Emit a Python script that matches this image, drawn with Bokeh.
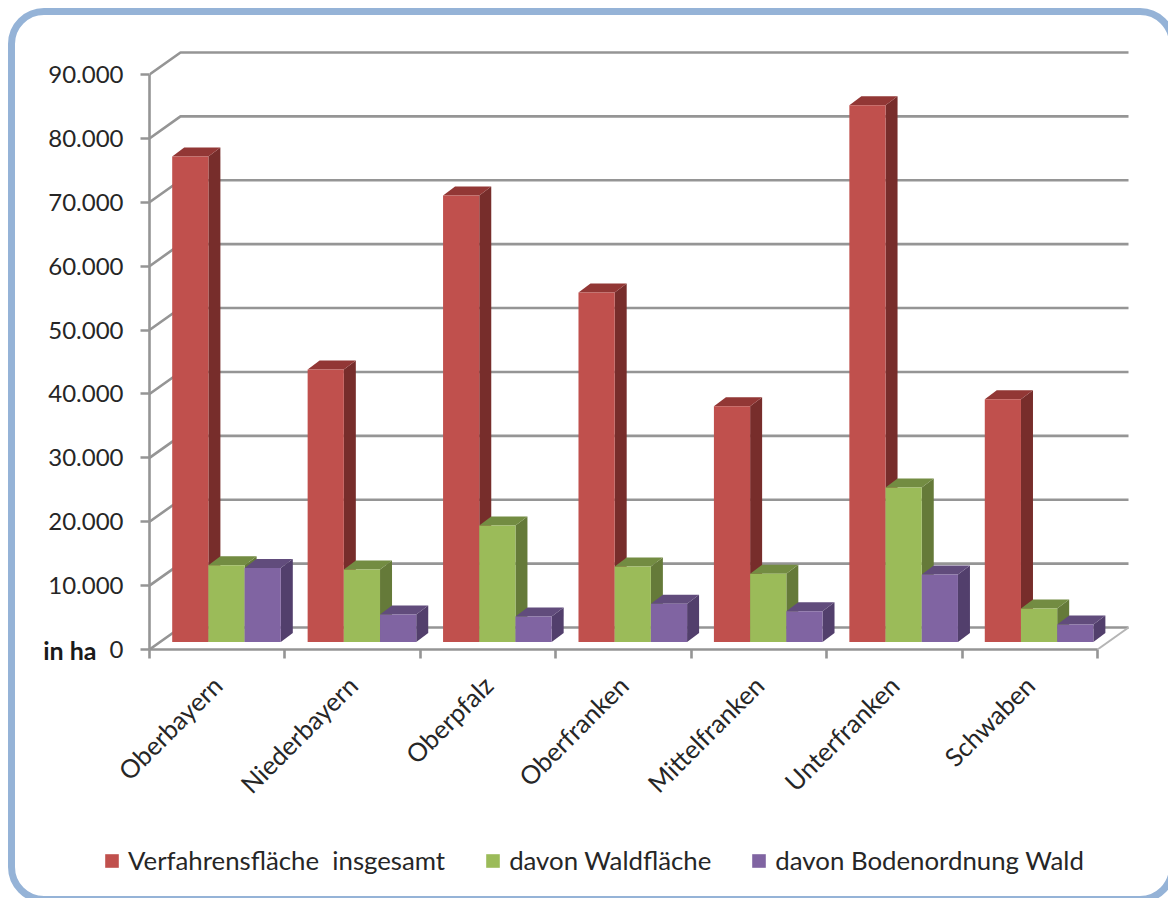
from bokeh.plotting import figure
from bokeh.layouts import column
from bokeh.models import (ColumnDataSource, FixedTicker, InlineStyleSheet, Legend,
                          LegendItem, LinearAxis, Range1d)
from bokeh.embed import file_html
from bokeh.resources import INLINE

regions = ["Oberbayern", "Niederbayern", "Oberpfalz", "Oberfranken",
           "Mittelfranken", "Unterfranken", "Schwaben"]
gesamt = [76000, 42650, 69900, 54700, 36900, 84000, 38000]
wald = [12000, 11350, 18250, 11800, 10700, 24200, 5250]
boden = [11600, 4300, 4000, 6000, 4800, 10550, 2750]
y_ticks = list(range(0, 100000, 10000))
y_labels = {v: (f"{v // 1000}.000" if v else "0") for v in y_ticks}
series_names = ["Verfahrensfläche  insgesamt", "davon Waldfläche", "davon Bodenordnung Wald"]

FONT = "Lato"
PX_X = 135.43            # pixels per category
PX_Y = 575 / 90000       # pixels per value unit
WALL_DX, WALL_DY = 31 / PX_X, 22 / PX_Y
BAR_DX, BAR_DY = 12 / PX_X, 9 / PX_Y
BAR_W = 36.2 / PX_X
BAR_X0 = 22.7 / PX_X
BASE = 7.5 / PX_Y

frame_css = InlineStyleSheet(css="""
:host { position: relative; overflow: hidden; }
:host::before {
  content: ""; position: absolute; left: 8px; top: 8px; width: 1168px; height: 895px;
  box-sizing: border-box; border: 7px solid #95B3D7; border-radius: 36px; pointer-events: none;
}
""")

p = figure(width=1168, height=812, output_backend="svg", toolbar_location=None,
           x_range=Range1d(0, 982 / PX_X), y_range=Range1d(0, 600 / PX_Y),
           x_axis_type=None, y_axis_type=None, frame_align=False,
           min_border_left=149, min_border_right=37, min_border_top=49, min_border_bottom=163)
p.outline_line_color = None
p.grid.visible = False
p.background_fill_alpha = 0
p.border_fill_alpha = 0

GRID = "#959595"
x_end = 7 + WALL_DX
grid_x = [[0, WALL_DX, x_end] for _ in y_ticks]
grid_y = [[v, v + WALL_DY, v + WALL_DY] for v in y_ticks]
p.multi_line(grid_x, grid_y, line_color=GRID, line_width=2.6)
p.line([7, x_end], [0, WALL_DY], line_color="#b5b5b5", line_width=2)

# strip below the chart that carries the legend
leg_fig = figure(width=1168, height=86, output_backend="svg", toolbar_location=None,
                 x_range=Range1d(0, 7), y_range=Range1d(0, 1),
                 x_axis_type=None, y_axis_type=None, frame_align=False,
                 min_border_left=0, min_border_right=0, min_border_top=0, min_border_bottom=0)
leg_fig.outline_line_color = None
leg_fig.grid.visible = False
leg_fig.background_fill_alpha = 0
leg_fig.border_fill_alpha = 0

faces = [("#C0504D", "#772D2B", "#923735"),
         ("#9BBB59", "#657A39", "#738C42"),
         ("#8064A2", "#523F6C", "#614C7C")]
legend_items = []
for s, (vals, (front, side, top)) in enumerate(zip([gesamt, wald, boden], faces)):
    lefts = [i + BAR_X0 + s * BAR_W for i in range(len(vals))]
    rights = [l + BAR_W for l in lefts]
    tops = [BASE + v for v in vals]
    p.patches([[r, r + BAR_DX, r + BAR_DX, r] for r in rights],
              [[BASE, BASE + BAR_DY, t + BAR_DY, t] for t in tops],
              fill_color=side, line_color=None)
    p.patches([[l, l + BAR_DX, r + BAR_DX, r] for l, r in zip(lefts, rights)],
              [[t, t + BAR_DY, t + BAR_DY, t] for t in tops],
              fill_color=top, line_color=None)
    src = ColumnDataSource(dict(x=[(l + r) / 2 for l, r in zip(lefts, rights)],
                                top=tops, bottom=[BASE] * len(vals)))
    p.vbar(x="x", top="top", bottom="bottom", width=BAR_W, source=src,
           fill_color=front, line_color=None)
    # legend key only: a bar of zero height, so nothing shows in the strip
    key = leg_fig.vbar(x=[3.5], top=[0.5], bottom=[0.5], width=BAR_W, fill_color=front, line_color=None)
    legend_items.append(LegendItem(label=series_names[s], renderers=[key]))

y_axis = LinearAxis(ticker=FixedTicker(ticks=y_ticks), bounds=(0, 90000),
                    major_label_overrides=y_labels,
                    major_tick_out=9, major_tick_in=0, minor_tick_out=0, minor_tick_in=0,
                    axis_line_color=GRID, axis_line_width=2.6,
                    major_tick_line_color=GRID, major_tick_line_width=2.6,
                    major_label_standoff=17,
                    major_label_text_font=FONT, major_label_text_font_size="24px",
                    major_label_text_color="#262626")
p.add_layout(y_axis, "left")

unit_axis = LinearAxis(ticker=FixedTicker(ticks=[0]), major_label_overrides={0: "in ha"},
                       axis_line_color=None, major_tick_line_color=None,
                       minor_tick_line_color=None, major_tick_out=0, major_tick_in=0,
                       major_label_standoff=-51,
                       major_label_text_font=FONT, major_label_text_font_size="25px",
                       major_label_text_font_style="bold", major_label_text_color="#1a1a1a")
p.add_layout(unit_axis, "left")

x_axis = LinearAxis(ticker=FixedTicker(ticks=[i + 0.5 for i in range(7)], minor_ticks=list(range(8))),
                    bounds=(0, 7),
                    major_label_overrides={i + 0.5: n for i, n in enumerate(regions)},
                    major_label_orientation=0.785398,
                    major_tick_out=0, major_tick_in=0, minor_tick_out=9, minor_tick_in=0,
                    axis_line_color=GRID, axis_line_width=2.6,
                    minor_tick_line_color=GRID, minor_tick_line_width=2.6,
                    major_label_standoff=22,
                    major_label_text_font=FONT, major_label_text_font_size="25.5px",
                    major_label_text_color="#262626")
p.add_layout(x_axis, "below")

legend = Legend(items=legend_items, orientation="horizontal", location=(103, 23),
                glyph_width=17, glyph_height=17, label_standoff=8, spacing=39, padding=0,
                margin=0, border_line_color=None, background_fill_alpha=0,
                label_text_font=FONT, label_text_font_size="25.8px", label_text_color="#262626")
leg_fig.add_layout(legend, "center")

page = column(p, leg_fig, spacing=0, stylesheets=[frame_css])
open("out.html", "w").write(file_html(page, INLINE))
